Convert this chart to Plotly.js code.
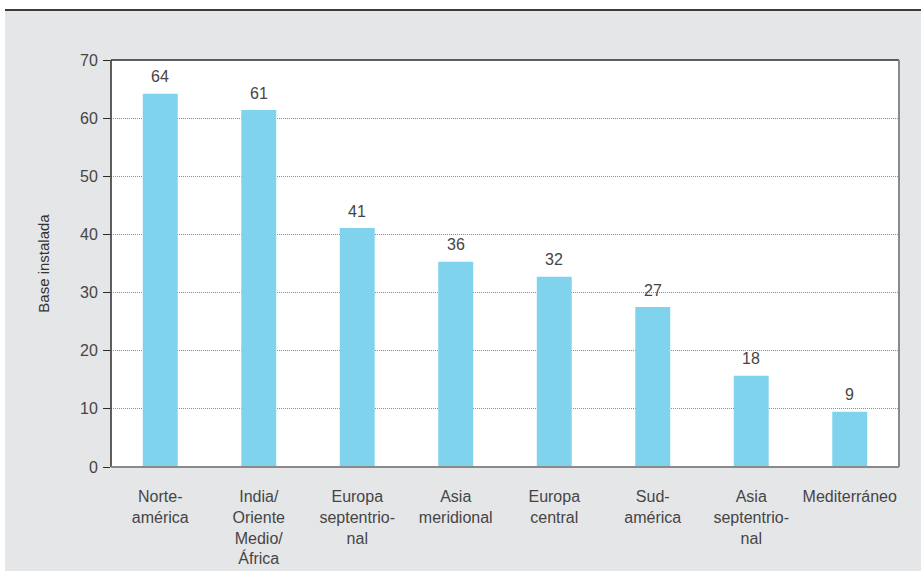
<!DOCTYPE html>
<html>
<head>
<meta charset="utf-8">
<script src="https://cdn.plot.ly/plotly-3.0.1.min.js"></script>
<style>
  html, body { margin: 0; padding: 0; background: #ffffff; width: 921px; height: 571px; overflow: hidden; }
  #wrap { position: absolute; left: 5px; top: 9px; width: 916px; height: 562px; border-top: 2px solid #3c3c3c; background: #e5e6e8; }
  #chart { width: 916px; height: 560px; }
</style>
</head>
<body>
<div id="wrap"><div id="chart"></div></div>
<script>
// Data
var categories = [
  "Norte-<br>américa",
  "India/<br>Oriente<br>Medio/<br>África",
  "Europa<br>septentrio-<br>nal",
  "Asia<br>meridional",
  "Europa<br>central",
  "Sud-<br>américa",
  "Asia<br>septentrio-<br>nal",
  "Mediterráneo"
];
var barValues = [64.2, 61.4, 41.1, 35.3, 32.7, 27.5, 15.7, 9.5];
var barLabels = ["64", "61", "41", "36", "32", "27", "18", "9"];
var yTickVals = [0, 10, 20, 30, 40, 50, 60, 70];
var yAxisTitle = "Base instalada";

var textColor = "#454545";
var fontFamily = "'Liberation Sans', Arial, Helvetica, sans-serif";

var trace = {
  type: "bar",
  x: categories,
  y: barValues,
  marker: { color: "#7fd3ed", line: { width: 0 } },
  hoverinfo: "none"
};

var annotations = categories.map(function (c, i) {
  return {
    x: c, y: barValues[i], xref: "x", yref: "y",
    text: barLabels[i], showarrow: false,
    yanchor: "middle", yshift: 17,
    font: { family: fontFamily, size: 16, color: textColor }
  };
});

var shapes = [
  { type: "line", xref: "paper", yref: "paper", x0: 0, x1: 1, y0: 1, y1: 1, line: { color: "#2b2b2b", width: 1.5 } },
  { type: "line", xref: "paper", yref: "paper", x0: 0, x1: 0, y0: 0, y1: 1, line: { color: "#2b2b2b", width: 1.5 } },
  { type: "line", xref: "paper", yref: "paper", x0: 1, x1: 1, y0: 0, y1: 1, line: { color: "#8a8a8a", width: 2 } },
  { type: "line", xref: "paper", yref: "paper", x0: 0, x1: 1, y0: 0, y1: 0, line: { color: "#8a8a8a", width: 2 } }
];

var layout = {
  width: 916,
  height: 560,
  margin: { l: 106, r: 22, t: 49, b: 104 },
  paper_bgcolor: "#e5e6e8",
  plot_bgcolor: "#ffffff",
  showlegend: false,
  bargap: 0.645,
  font: { family: fontFamily, size: 16, color: textColor },
  xaxis: {
    type: "category",
    showline: false,
    showgrid: false,
    zeroline: false,
    ticks: "",
    ticklabelstandoff: 18,
    tickfont: { family: fontFamily, size: 16, color: textColor },
    fixedrange: true
  },
  yaxis: {
    range: [0, 70],
    tickvals: yTickVals,
    ticks: "outside",
    ticklen: 7,
    tickcolor: "#2b2b2b",
    tickwidth: 1,
    showline: false,
    zeroline: false,
    showgrid: true,
    gridcolor: "#8c8c8c",
    griddash: "1px,1px",
    gridwidth: 1,
    ticklabelstandoff: 2,
    tickfont: { family: fontFamily, size: 16, color: textColor },
    title: { text: yAxisTitle, standoff: 26, font: { family: fontFamily, size: 15, color: "#333333" } },
    fixedrange: true
  },
  annotations: annotations,
  shapes: shapes
};

Plotly.newPlot("chart", [trace], layout, { displayModeBar: false, staticPlot: true });
</script>
</body>
</html>
